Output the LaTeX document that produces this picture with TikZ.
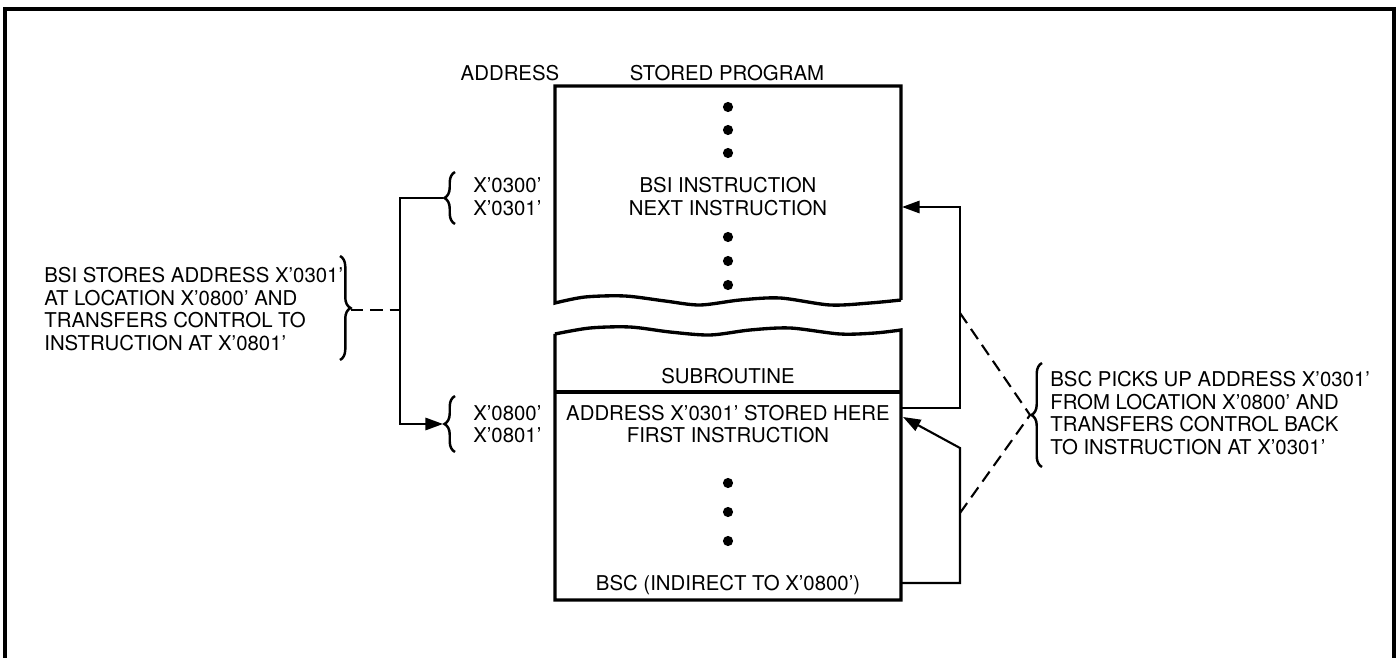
\documentclass[tikz,border=0pt]{standalone}
\usepackage{fontspec}
\setmainfont{TeX Gyre Heros}
\usepackage{tikz}
\usetikzlibrary{arrows.meta, decorations.pathreplacing}

\begin{document}
\begin{tikzpicture}[x=0.02cm, y=-0.02cm, >={Triangle[length=10pt,width=7pt]},
  every node/.style={font=\fontsize{11.6}{13}\selectfont, inner sep=0pt},
  box/.style={line width=1.9pt},
  link/.style={line width=1.2pt},
  brc/.style={line width=1.4pt, decorate, decoration={brace, amplitude=6pt}}]
\useasboundingbox (0,0) rectangle (1400,658);

\draw[line width=2.4pt] (5,658) -- (5,9) -- (1394,9) -- (1394,658);

\node (addr) at (510,73) {ADDRESS};
\node (prog) at (727,73) {STORED PROGRAM};

\draw[box] plot[smooth] coordinates {(901,300) (870,303) (830,305) (780,298) (740,300) (700,305) (665,301) (625,296) (585,297) (555,303)}
  -- (555,86) -- (901,86) -- (901,300);
\draw[box] plot[smooth] coordinates {(555,334) (590,328) (630,327) (670,332) (710,335) (750,330) (790,328) (840,334) (875,333) (901,330)}
  -- (901,600) -- (555,600) -- (555,334);
\draw[box] (555,392) -- (901,392);

\foreach \y in {107,130,153,237,261,285,483,512,541}
  \fill (728,\y) circle[radius=2.9pt];

\node (bsi) at (728,185) {BSI INSTRUCTION};
\node (next) at (728,208) {NEXT INSTRUCTION};
\node (sub) at (728,376) {SUBROUTINE};
\node (stored) at (728,413) {ADDRESS X'0301' STORED HERE};
\node (first) at (728,435) {FIRST INSTRUCTION};
\node (bsc) at (728,585) {BSC (INDIRECT TO X'0800')};

\node[anchor=west] (a300) at (473,185) {X'0300'};
\node[anchor=west] (a301) at (473,208) {X'0301'};
\node[anchor=west] (a800) at (473,413) {X'0800'};
\node[anchor=west] (a801) at (473,435) {X'0801'};
\draw[brc] (455,224) -- (455,172);
\draw[brc] (455,452) -- (455,396);

\node[anchor=west, align=left] (bsinote) at (44,309)
  {BSI STORES ADDRESS X'0301'\\AT LOCATION X'0800' AND\\TRANSFERS CONTROL TO\\INSTRUCTION AT X'0801'};
\draw[brc] (340,256) -- (340,360);

\node[anchor=west, align=left] (bscnote) at (1050,413)
  {BSC PICKS UP ADDRESS X'0301'\\FROM LOCATION X'0800' AND\\TRANSFERS CONTROL BACK\\TO INSTRUCTION AT X'0301'};
\draw[brc] (1042,467) -- (1042,363);

\coordinate (l300) at (443,198);
\coordinate (l800) at (443,424);
\coordinate (jn) at (400,310);
\coordinate (ltip) at (351,310);
\draw[link,->] (l300) -| (jn) |- (l800);
\draw[link, dash pattern=on 7pt off 4pt] (ltip) -- (jn);

\coordinate (rin1) at (902,207);
\coordinate (rout1) at (901,408);
\coordinate (rin2) at (903,417);
\coordinate (rout2) at (901,583);
\coordinate (rbar) at (960,313);
\coordinate (rbar2) at (960,448);
\coordinate (rlow) at (960,513);
\coordinate (rtip) at (1030,415);
\draw[link,->] (rout1) -| (rbar) |- (rin1);
\draw[link,->] (rout2) -| (rbar2) -- (rin2);
\draw[link, dash pattern=on 7pt off 4pt] (rbar) -- (rtip) -- (rlow);
\end{tikzpicture}
\end{document}
